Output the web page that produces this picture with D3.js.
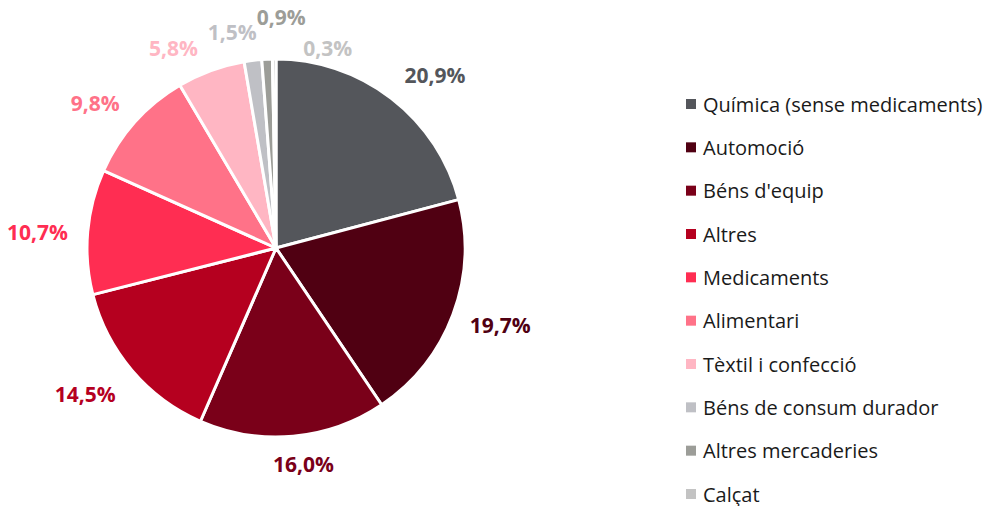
<!DOCTYPE html>
<html>
<head>
<meta charset="utf-8">
<script src="https://cdn.jsdelivr.net/npm/d3@7"></script>
<style>
  body { margin: 0; background: #fff; }
  svg text { font-family: "Open Sans", "Noto Sans", sans-serif; }
</style>
</head>
<body>
<svg id="chart" width="988" height="506"></svg>
<script>
// data
var categories = ["Química (sense medicaments)", "Automoció", "Béns d'equip", "Altres",
    "Medicaments", "Alimentari", "Tèxtil i confecció", "Béns de consum durador",
    "Altres mercaderies", "Calçat"];
var values = [20.9, 19.7, 16.0, 14.5, 10.7, 9.8, 5.8, 1.5, 0.9, 0.3];
var valueLabels = ["20,9%", "19,7%", "16,0%", "14,5%", "10,7%", "9,8%", "5,8%", "1,5%", "0,9%", "0,3%"];

var colors = ["#54565b", "#500012", "#7a0019", "#b5001f", "#ff2d52",
    "#ff7288", "#ffb6c3", "#bfc0c5", "#9c9d98", "#c3c3c3"];

// label placement tweaks (degrees added to slice mid angle, radius)
var labelShift = [5, -1.7, -2, 3, -1, -3, -7, -4.5, 4, 15];
var labelRad = [235, 237, 218, 240, 239, 232, 225, 220, 231, 207];

var svg = d3.select("#chart");
var cx = 276, cy = 248, r = 189;

var pie = d3.pie().sort(null).value(function(d){ return d; });
var arcs = pie(values);
var arc = d3.arc().innerRadius(0).outerRadius(r);

var g = svg.append("g").attr("transform", "translate(" + cx + "," + cy + ")");

g.selectAll("path")
    .data(arcs)
    .enter()
    .append("path")
    .attr("d", arc)
    .attr("fill", function(d, i){ return colors[i]; })
    .style("stroke", "#fff")
    .style("stroke-width", 3)
    .style("stroke-linejoin", "round");

g.selectAll("text.lbl")
    .data(arcs)
    .enter()
    .append("text")
    .attr("class", "lbl")
    .attr("transform", function(d, i){
        var a = (d.startAngle + d.endAngle) / 2 + labelShift[i] * Math.PI / 180;
        var p = d3.pointRadial(a, labelRad[i]);
        return "translate(" + p[0] + "," + p[1] + ")";
    })
    .attr("text-anchor", "middle")
    .attr("dominant-baseline", "central")
    .style("font-size", "21px")
    .style("font-weight", "bold")
    .attr("fill", function(d, i){ return colors[i]; })
    .text(function(d, i){ return valueLabels[i]; });

// legend
var legY = d3.scalePoint().domain(categories).range([104, 494]);

var leg = svg.append("g")
    .selectAll("g")
    .data(categories)
    .enter()
    .append("g")
    .attr("transform", function(d){ return "translate(686," + legY(d) + ")"; });

leg.append("rect")
    .attr("x", 0).attr("y", -5)
    .attr("width", 10).attr("height", 10)
    .attr("fill", function(d, i){ return colors[i]; });

leg.append("text")
    .attr("x", 17)
    .attr("dominant-baseline", "central")
    .style("font-size", "20px")
    .attr("fill", "#1a1a1a")
    .text(function(d){ return d; });
</script>
</body>
</html>
